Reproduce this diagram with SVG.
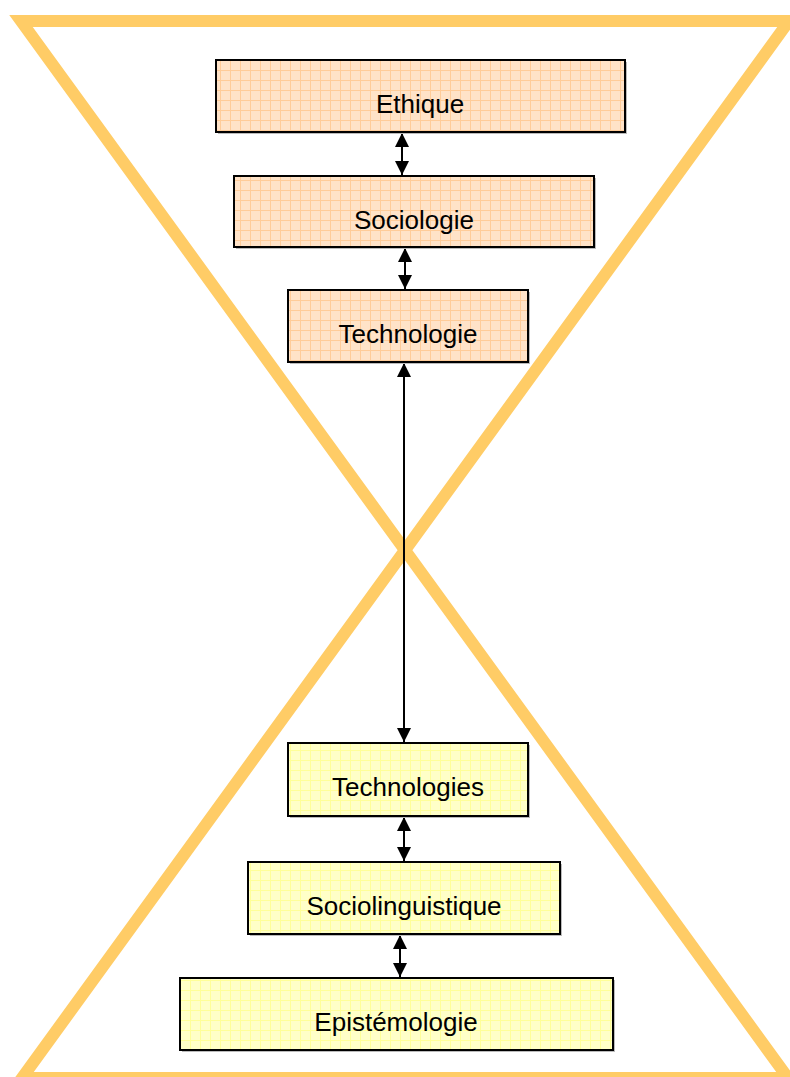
<svg xmlns="http://www.w3.org/2000/svg" width="790" height="1077" viewBox="0 0 790 1077">
<style>
.hg{fill:none;stroke:#FFCC66;stroke-width:12;stroke-linejoin:miter;stroke-miterlimit:10}
.bo{stroke:#000;stroke-width:2;fill:url(#gridO)}
.by{stroke:#000;stroke-width:2;fill:url(#gridY)}
.sh{fill:#BBBBBB}
.lbl{font-family:"Liberation Sans",Arial,sans-serif;font-size:26px;fill:#000;text-anchor:middle}
.con{stroke:#000;stroke-width:2;fill:none;marker-start:url(#ah);marker-end:url(#ah)}
</style>
<defs>
<pattern id="gridO" patternUnits="userSpaceOnUse" width="10" height="10">
<rect width="10" height="10" fill="#FFE3C8"/>
<path d="M0 0.5H10M0.5 0V10" stroke="#FFCC99" stroke-width="1"/>
</pattern>
<pattern id="gridY" patternUnits="userSpaceOnUse" width="10" height="10">
<rect width="10" height="10" fill="#FFFFC8"/>
<path d="M0 0.5H10M0.5 0V10" stroke="#FFFF99" stroke-width="1"/>
</pattern>
<marker id="ah" viewBox="0 0 10 10" refX="10" refY="5" markerWidth="7" markerHeight="7" orient="auto-start-reverse">
<path d="M0 0L10 5L0 10Z" fill="#000"/>
</marker>
</defs>
<polygon class="hg" points="21,21 789,21 22,1078 788,1078"/>
<g id="connectors">
<line class="con" x1="402" y1="133" x2="402" y2="175"/>
<line class="con" x1="405" y1="248" x2="405" y2="289"/>
<line class="con" x1="404" y1="363" x2="404" y2="742"/>
<line class="con" x1="404" y1="817" x2="404" y2="861"/>
<line class="con" x1="400" y1="935" x2="400" y2="977"/>
</g>
<g id="ethique">
<rect class="sh" x="218" y="62" width="409" height="72"/>
<rect class="bo" x="216" y="60" width="409" height="72"/>
<text class="lbl" x="420" y="113">Ethique</text>
</g>
<g id="sociologie">
<rect class="sh" x="236" y="178" width="360" height="71"/>
<rect class="bo" x="234" y="176" width="360" height="71"/>
<text class="lbl" x="414" y="229">Sociologie</text>
</g>
<g id="technologie">
<rect class="sh" x="290" y="292" width="240" height="72"/>
<rect class="bo" x="288" y="290" width="240" height="72"/>
<text class="lbl" x="408" y="343">Technologie</text>
</g>
<g id="technologies">
<rect class="sh" x="290" y="745" width="240" height="73"/>
<rect class="by" x="288" y="743" width="240" height="73"/>
<text class="lbl" x="408" y="796">Technologies</text>
</g>
<g id="sociolinguistique">
<rect class="sh" x="250" y="864" width="312" height="72"/>
<rect class="by" x="248" y="862" width="312" height="72"/>
<text class="lbl" x="404" y="915">Sociolinguistique</text>
</g>
<g id="epistemologie">
<rect class="sh" x="182" y="980" width="433" height="72"/>
<rect class="by" x="180" y="978" width="433" height="72"/>
<text class="lbl" x="396" y="1031">Epistémologie</text>
</g>
</svg>
